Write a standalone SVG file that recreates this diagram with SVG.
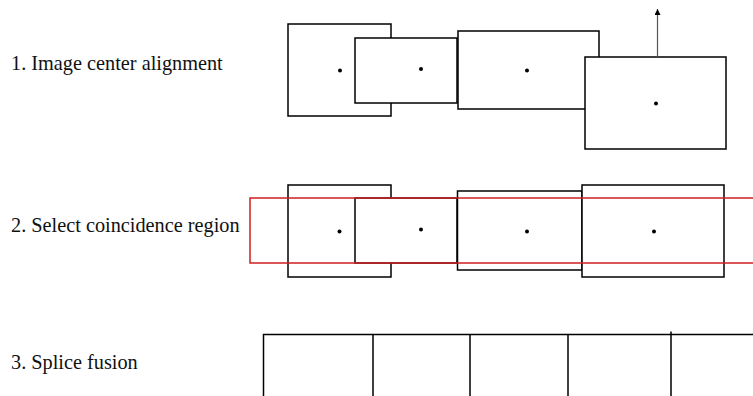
<svg xmlns="http://www.w3.org/2000/svg" width="753" height="396" viewBox="0 0 753 396">
<defs>
<style>
.lbl{font-family:"Liberation Serif","Times New Roman",serif;font-size:20.3px;fill:#111}
.box{fill:#fff;stroke:#000;stroke-width:1.5}
.dot{fill:#000}
.ln{stroke:#000;stroke-width:1.5;fill:none}
.sel{fill:none;stroke:#d02020;stroke-width:1.5}
</style>
<marker id="ah" viewBox="0 0 10 10" refX="10" refY="5" markerWidth="7" markerHeight="6" markerUnits="userSpaceOnUse" orient="auto">
<path d="M0,0 L10,5 L0,10 Z" fill="#000"/>
</marker>
</defs>
<rect width="753" height="396" fill="#fff"/>
<g id="labels">
<text class="lbl" x="11" y="70">1. Image center alignment</text>
<text class="lbl" x="11" y="232">2. Select coincidence region</text>
<text class="lbl" x="11" y="369">3. Splice fusion</text>
</g>
<g id="step1">
<g id="s1-img1"><rect class="box" x="288" y="24" width="103" height="92"/><circle class="dot" cx="340" cy="70.5" r="2"/></g>
<g id="s1-img2"><rect class="box" x="355" y="38" width="102" height="65"/><circle class="dot" cx="421" cy="69" r="2"/></g>
<g id="s1-img3"><rect class="box" x="458" y="31" width="141" height="78"/><circle class="dot" cx="527" cy="70.5" r="2"/></g>
<g id="s1-img4"><rect class="box" x="585" y="57" width="141" height="92"/><circle class="dot" cx="656" cy="103.5" r="2"/></g>
</g>
<g id="step2">
<g id="s2-img1"><rect class="box" x="288" y="185" width="103" height="92"/><circle class="dot" cx="339.5" cy="231.5" r="2"/></g>
<g id="s2-img2"><rect class="box" x="355" y="198" width="102" height="65"/><circle class="dot" cx="421" cy="229.5" r="2"/></g>
<g id="s2-img3"><rect class="box" x="457.5" y="191" width="124.5" height="79"/><circle class="dot" cx="527" cy="231.5" r="2"/></g>
<g id="s2-img4"><rect class="box" x="582" y="185" width="142" height="92"/><circle class="dot" cx="654" cy="231.5" r="2"/></g>
<g id="s2-region"><rect class="sel" x="250" y="198" width="510" height="65"/></g>
</g>
<g id="step3">
<path class="ln" d="M263.5,396 V334.5 H753"/>
<path class="ln" d="M373,334.5 V396 M470,334.5 V396 M568,334.5 V396 M671,331.5 V396"/>
</g>
<g id="connectors">
<line x1="657.5" y1="57" x2="657.5" y2="9" stroke="#555" stroke-width="1.2" marker-end="url(#ah)"/>
</g>
</svg>
